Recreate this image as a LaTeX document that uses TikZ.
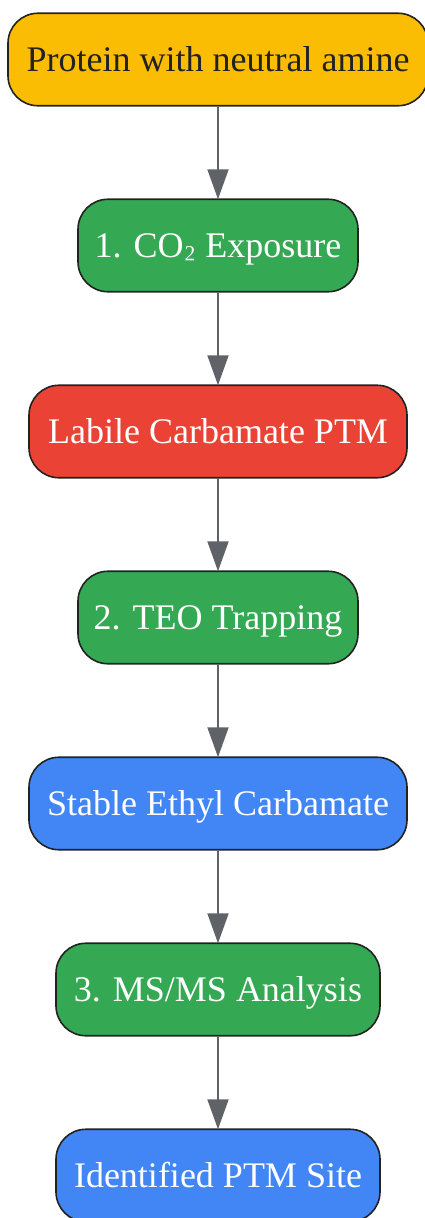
\documentclass[tikz,border=0pt]{standalone}
\usepackage{fontspec}
\setmainfont{Liberation Serif}
\usetikzlibrary{positioning}
\usetikzlibrary{arrows.meta}

\definecolor{amber}{HTML}{FBBC04}
\definecolor{leaf}{HTML}{34A853}
\definecolor{alert}{HTML}{EA4335}
\definecolor{sky}{HTML}{4285F4}
\definecolor{edge}{HTML}{222222}
\definecolor{link}{HTML}{5F6368}

\begin{document}
\begin{tikzpicture}[x=1pt, y=-1pt, >={Triangle[width=21pt, length=30pt]}, node distance=93.5pt,
    stage/.style={rectangle, rounded corners=30pt, draw=edge, line width=1.6pt, minimum height=92.5pt, inner sep=0pt, outer sep=0pt, text height=26pt, text depth=2pt, text=white, font=\fontsize{36}{40}\selectfont},
    flow/.style={->, draw=link, fill=link, line width=2pt}]
\useasboundingbox (0,0) rectangle (425,1218);
\node[stage, fill=amber, text=edge, minimum width=420pt] (protein) at (218,59.5) {Protein with neutral amine};
\node[stage, fill=leaf, minimum width=280pt, below=of protein] (exposure) {1. CO\raisebox{4pt}{₂} Exposure};
\node[stage, fill=alert, minimum width=378pt, below=of exposure] (labile) {Labile Carbamate PTM};
\node[stage, fill=leaf, minimum width=280pt, below=of labile] (trapping) {2. TEO Trapping};
\node[stage, fill=sky, minimum width=378pt, below=of trapping] (stable) {Stable Ethyl Carbamate};
\node[stage, fill=leaf, minimum width=324pt, below=of stable] (analysis) {3. MS/MS Analysis};
\node[stage, fill=sky, minimum width=324pt, below=of analysis] (site) {Identified PTM Site};

\draw[flow] (protein) -- (exposure);
\draw[flow] (exposure) -- (labile);
\draw[flow] (labile) -- (trapping);
\draw[flow] (trapping) -- (stable);
\draw[flow] (stable) -- (analysis);
\draw[flow] (analysis) -- (site);
\end{tikzpicture}
\end{document}
